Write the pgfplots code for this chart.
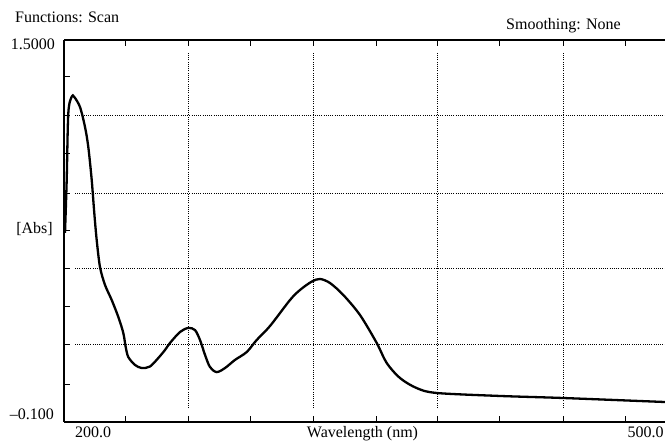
\documentclass[border=0pt]{standalone}
\usepackage{pgfplots}
\pgfplotsset{compat=1.18}
\usepackage{fontspec}
\setmainfont{Liberation Serif}
\begin{document}
\fontsize{16}{19}\selectfont
\begin{tikzpicture}[x=1pt,y=1pt]
\useasboundingbox (0,0) rectangle (665,443);
\begin{axis}[
  at={(64pt,21pt)}, anchor=south west,
  width=601pt, height=382pt, scale only axis,
  xmin=200, xmax=500, ymin=-0.1, ymax=1.5,
  axis x line*=box, axis y line*=left,
  xtick pos=both, ytick pos=left,
  xtick={230.45,261.9,292.85,324.3,355.75,386.2,417.6,449.1,480.05},
  ytick={1.345,1.182,1.0225,0.859,0.700,0.541,0.382,0.224,0.059},
  xticklabels={}, yticklabels={},
  tick align=inside, major tick length=6pt,
  tick style={black, line width=1pt},
  axis line style={black, line width=1.3pt},
  clip=false,
]
\foreach \gx in {261.9,324.3,386.2,449.1}{
  \edef\tmp{\noexpand\draw[black, line width=1pt, dash pattern=on 1pt off 1.2pt] (axis cs:\gx,-0.0414) -- (axis cs:\gx,1.4497);}\tmp
}
\foreach \gy in {1.182,0.859,0.541,0.224}{
  \edef\tmp{\noexpand\draw[black, line width=1pt, dash pattern=on 1pt off 1.2pt] (axis cs:205.5,\gy) -- (axis cs:500,\gy);}\tmp
}
\addplot[black, line width=2.3pt, smooth, tension=0.5] coordinates {
(200.5,0.692) (201.35,0.914) (202.15,1.194) (203.84,1.2625) (205.14,1.2613)
(207.99,1.219) (210.48,1.136) (212.13,1.052) (213.83,0.914) (215.12,0.775)
(216.32,0.662) (217.97,0.549) (220.47,0.474) (223.81,0.411) (227.11,0.340)
(229.60,0.273) (230.80,0.214) (232.10,0.172) (235.44,0.139) (238.79,0.126)
(242.93,0.1325) (247.07,0.168) (250.42,0.2016) (252.91,0.231) (257.91,0.277)
(262.05,0.294) (265.39,0.285) (267.89,0.2435) (270.39,0.181) (272.88,0.130)
(276.23,0.109) (280.37,0.126) (285.36,0.160) (291.20,0.193) (296.19,0.2435)
(302.83,0.302) (312.82,0.411) (317.81,0.453) (323.65,0.488) (327.79,0.499)
(332.78,0.482) (339.42,0.432) (347.76,0.348) (356.09,0.231) (361.09,0.147)
(367.73,0.084) (376.06,0.042) (386.05,0.0215) (417.6,0.009) (449.1,0.0005)
(499.0,-0.016) (500,-0.0165)
};
\end{axis}
\node[anchor=base west, inner sep=0] at (15,420) {Functions: Scan};
\node[anchor=base, inner sep=0] at (563.5,413) {Smoothing: None};
\node[anchor=base east, inner sep=0] at (55,393) {1.5000};
\node[anchor=base east, inner sep=0] at (53,209) {[Abs]};
\node[anchor=base east, inner sep=0] at (54,23) {–0.100};
\node[anchor=base, inner sep=0] at (93,5) {200.0};
\node[anchor=base, inner sep=0] at (362.5,5) {Wavelength (nm)};
\node[anchor=base, inner sep=0] at (645.5,5) {500.0};
\end{tikzpicture}
\end{document}
